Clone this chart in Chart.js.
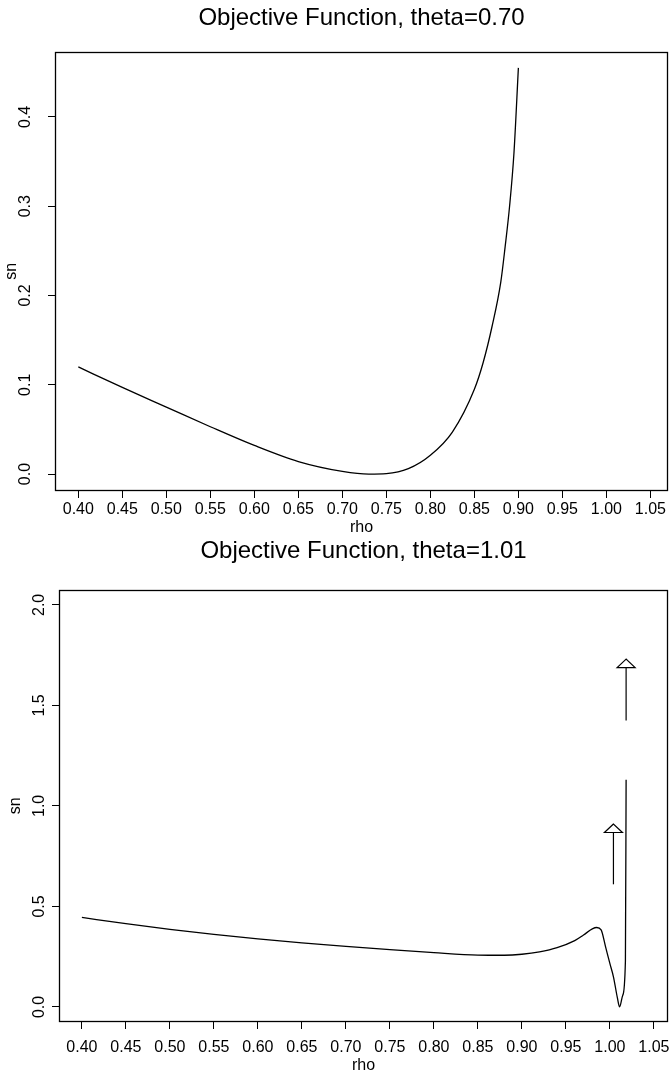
<!DOCTYPE html>
<html>
<head>
<meta charset="utf-8">
<script src="https://cdn.jsdelivr.net/npm/chart.js"></script>
<style>
  body { margin: 0; background: #fff; }
  canvas { display: block; }
</style>
</head>
<body>
<canvas id="top" width="671" height="537"></canvas>
<canvas id="bottom" width="671" height="537"></canvas>
<script>
const rhoTicks = [0.40, 0.45, 0.50, 0.55, 0.60, 0.65, 0.70, 0.75, 0.80, 0.85, 0.90, 0.95, 1.00, 1.05];

// theta = 0.70
const rho1 = [0.40, 0.45, 0.50, 0.55, 0.60, 0.65, 0.70, 0.73, 0.75, 0.775, 0.80, 0.825, 0.85, 0.86, 0.87, 0.88, 0.885, 0.89, 0.895, 0.90];
const sn1 = [0.120, 0.097, 0.075, 0.053, 0.032, 0.014, 0.003, 0.000, 0.0005, 0.006, 0.021, 0.047, 0.095, 0.125, 0.165, 0.215, 0.255, 0.300, 0.360, 0.455];
const snTicks1 = [0.0, 0.1, 0.2, 0.3, 0.4];

// theta = 1.01
const rho2 = [0.40, 0.45, 0.50, 0.55, 0.60, 0.65, 0.70, 0.75, 0.80, 0.85, 0.88, 0.90, 0.92, 0.94, 0.96, 0.97, 0.98, 0.985, 0.99, 0.995, 1.000, 1.004, 1.0085, 1.011, 1.0145, 1.0176, 1.0184];
const sn2 = [0.445, 0.414, 0.386, 0.361, 0.339, 0.319, 0.301, 0.285, 0.270, 0.258, 0.257, 0.262, 0.274, 0.295, 0.330, 0.358, 0.388, 0.395, 0.383, 0.300, 0.215, 0.150, 0.045, 0.000, 0.057, 0.227, 1.130];
const snTicks2 = [0.0, 0.5, 1.0, 1.5, 2.0];

// arrows on the second panel
const arrowRho = [1.004, 1.0184];
const arrowFrom = [0.61, 1.425];
const arrowTo = [0.91, 1.73];

Chart.defaults.font.family = '"Liberation Sans", Arial, Helvetica, sans-serif';
Chart.defaults.color = '#000';

const boxPlugin = {
  id: 'box',
  afterDatasetsDraw(chart) {
    const a = chart.chartArea, ctx = chart.ctx;
    ctx.save();
    ctx.strokeStyle = '#000';
    ctx.lineWidth = 1.3;
    ctx.strokeRect(Math.round(a.left) + 0.5, Math.round(a.top) + 0.5, Math.round(a.right - a.left) - 1, Math.round(a.bottom - a.top) - 1);
    ctx.restore();
  }
};

const arrowPlugin = {
  id: 'arrows',
  afterDatasetsDraw(chart, args, opts) {
    if (!opts.show) return;
    const xs = chart.scales.x, ys = chart.scales.y, ctx = chart.ctx;
    ctx.save();
    ctx.strokeStyle = '#000';
    ctx.lineWidth = 1.2;
    arrowRho.forEach((r, i) => {
      const x = xs.getPixelForValue(r);
      const y0 = ys.getPixelForValue(arrowFrom[i]);
      const y1 = ys.getPixelForValue(arrowTo[i]);
      ctx.beginPath();
      ctx.moveTo(x, y0);
      ctx.lineTo(x, y1 + 8);
      ctx.stroke();
      ctx.beginPath();
      ctx.moveTo(x, y1);
      ctx.lineTo(x - 9, y1 + 8.5);
      ctx.lineTo(x + 9, y1 + 8.5);
      ctx.closePath();
      ctx.stroke();
    });
    ctx.restore();
  }
};

function makeChart(id, cfg) {
  return new Chart(document.getElementById(id), {
    type: 'line',
    data: {
      datasets: [{
        data: cfg.rho.map((r, i) => ({ x: r, y: cfg.sn[i] })),
        borderColor: '#000',
        borderWidth: 1.3,
        pointRadius: 0,
        cubicInterpolationMode: 'monotone',
        fill: false
      }]
    },
    options: {
      responsive: false,
      animation: false,
      layout: { padding: { left: 0, right: 3, top: 0, bottom: 0 } },
      plugins: {
        legend: { display: false },
        tooltip: { enabled: false },
        title: {
          display: true,
          fullSize: false,
          text: cfg.title,
          color: '#000',
          font: { size: 24, weight: 'normal' },
          padding: { top: cfg.titleTop, bottom: cfg.titleBottom }
        },
        arrows: { show: cfg.arrows }
      },
      scales: {
        x: {
          type: 'linear',
          min: cfg.xmin,
          max: cfg.xmax,
          afterBuildTicks: s => { s.ticks = rhoTicks.map(v => ({ value: v })); },
          afterFit: s => { s.height = cfg.xHeight; s.paddingLeft = 0; s.paddingRight = 0; },
          border: { display: false },
          grid: { drawOnChartArea: false, drawTicks: true, tickLength: 7, color: '#000', lineWidth: 1 },
          ticks: { font: { size: 16 }, padding: cfg.xPad, maxRotation: 0, autoSkip: false, callback: v => v.toFixed(2) },
          title: { display: true, text: 'rho', font: { size: 16, lineHeight: 1 }, padding: { top: 0, bottom: cfg.rhoPad } }
        },
        y: {
          min: cfg.ymin,
          max: cfg.ymax,
          afterBuildTicks: s => { s.ticks = cfg.yTicks.map(v => ({ value: v })); },
          afterFit: s => { s.width = cfg.yWidth; s.paddingTop = 0; s.paddingBottom = 0; },
          border: { display: false },
          grid: { drawOnChartArea: false, drawTicks: true, tickLength: 7, color: '#000', lineWidth: 1 },
          ticks: { font: { size: 16 }, padding: cfg.yPad, minRotation: 90, maxRotation: 90, crossAlign: 'center', callback: v => v.toFixed(1) },
          title: { display: true, text: 'sn', font: { size: 16, lineHeight: 1 }, padding: { top: cfg.snPad, bottom: 0 } }
        }
      }
    },
    plugins: [boxPlugin, arrowPlugin]
  });
}

makeChart('top', {
  title: 'Objective Function, theta=0.70',
  rho: rho1, sn: sn1, yTicks: snTicks1,
  xmin: 0.3735, xmax: 1.070, ymin: -0.019, ymax: 0.473,
  titleTop: 4, titleBottom: 19, xHeight: 46, yWidth: 55,
  xPad: 2, yPad: 11, rhoPad: 1, snPad: 4, arrows: false
});

makeChart('bottom', {
  title: 'Objective Function, theta=1.01',
  rho: rho2, sn: sn2, yTicks: snTicks2,
  xmin: 0.374, xmax: 1.066, ymin: -0.075, ymax: 2.075,
  titleTop: 0, titleBottom: 24, xHeight: 52, yWidth: 59,
  xPad: 9, yPad: 1, rhoPad: 0, snPad: 8, arrows: true
});
</script>
</body>
</html>
